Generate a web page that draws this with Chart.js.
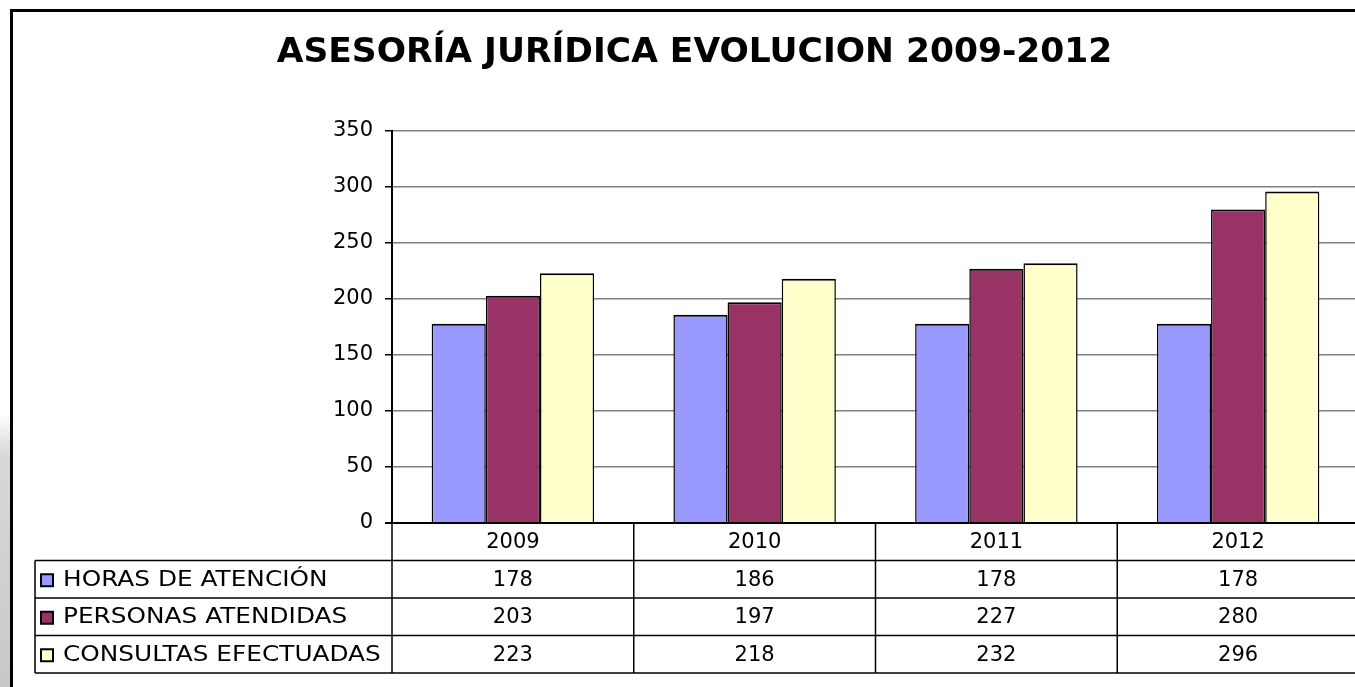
<!DOCTYPE html>
<html>
<head>
<meta charset="utf-8">
<script src="https://cdn.jsdelivr.net/npm/chart.js@4.4.1/dist/chart.umd.min.js"></script>
<style>
	html, body { margin: 0; padding: 0; background: #fff; overflow: hidden; }
	#wrap { position: relative; width: 1389px; height: 687px; }
</style>
</head>
<body>
<div id="wrap"><canvas id="chart" width="1389" height="687"></canvas></div>
<script>
const chartTitle = 'ASESORÍA JURÍDICA EVOLUCION 2009-2012';
const years = ['2009', '2010', '2011', '2012'];
const seriesNames = ['HORAS DE ATENCIÓN', 'PERSONAS ATENDIDAS', 'CONSULTAS EFECTUADAS'];
const horasAtencion = [178, 186, 178, 178];
const personasAtendidas = [203, 197, 227, 280];
const consultasEfectuadas = [223, 218, 232, 296];
const seriesColors = ['#9999ff', '#993366', '#ffffcc'];
const yMax = 350;
const yStep = 50;

const FONT = '"DejaVu Sans", Verdana, sans-serif';
const seriesValues = [horasAtencion, personasAtendidas, consultasEfectuadas];

// white page, outer frame, title and the data table under the plot
const sheetPlugin = {
	id: 'sheet',
	beforeDraw(chart) {
		const { ctx, width, height } = chart;
		ctx.save();
		ctx.fillStyle = '#fff';
		ctx.fillRect(0, 0, width, height);
		const grad = ctx.createLinearGradient(0, 415, 0, height);
		grad.addColorStop(0, 'rgba(210,210,210,0)');
		grad.addColorStop(0.15, '#d8d8d8');
		grad.addColorStop(1, '#c8c8c8');
		ctx.fillStyle = grad;
		ctx.fillRect(0, 415, 10, height - 415);
		ctx.restore();
	},
	afterDraw(chart) {
		const { ctx, chartArea } = chart;
		const { left, right, bottom } = chartArea;
		const colW = (right - left) / years.length;
		const rowH = 37.5;
		const tableLeft = 35;

		ctx.save();

		// outer frame
		ctx.strokeStyle = '#000';
		ctx.lineWidth = 3;
		ctx.strokeRect(11.5, 10.5, 2000, 2000);

		// title
		ctx.fillStyle = '#000';
		ctx.font = `bold 34.5px ${FONT}`;
		ctx.textAlign = 'center';
		ctx.textBaseline = 'middle';
		ctx.fillText(chartTitle, 694.5, 53);

		// table grid
		ctx.strokeStyle = '#000';
		ctx.lineWidth = 1.5;
		ctx.beginPath();
		for (let r = 1; r <= seriesNames.length + 1; r++) {
			const y = bottom + r * rowH;
			ctx.moveTo(tableLeft, y);
			ctx.lineTo(right + 5, y);
		}
		ctx.moveTo(tableLeft, bottom + rowH);
		ctx.lineTo(tableLeft, bottom + rowH * (seriesNames.length + 1));
		for (let c = 0; c <= years.length; c++) {
			const x = left + c * colW;
			ctx.moveTo(x, bottom);
			ctx.lineTo(x, bottom + rowH * (seriesNames.length + 1));
		}
		ctx.stroke();

		ctx.font = `21px ${FONT}`;
		ctx.textBaseline = 'middle';
		ctx.textAlign = 'center';
		ctx.fillStyle = '#000';
		years.forEach((year, c) => {
			ctx.fillText(year, left + (c + 0.5) * colW, bottom + rowH / 2 + 1);
		});

		seriesNames.forEach((name, r) => {
			const yMid = bottom + (r + 1.5) * rowH + 1;
			ctx.fillStyle = seriesColors[r];
			ctx.fillRect(41, yMid - 6, 12, 12);
			ctx.strokeStyle = '#000';
			ctx.lineWidth = 2;
			ctx.strokeRect(41, yMid - 6, 12, 12);
			ctx.fillStyle = '#000';

			// Verdana-like wide caps: stretch the label horizontally
			ctx.save();
			ctx.translate(63, yMid);
			ctx.scale(1.18, 1);
			ctx.textAlign = 'left';
			ctx.fillText(name, 0, 0);
			ctx.restore();

			ctx.textAlign = 'center';
			seriesValues[r].forEach((v, c) => {
				ctx.fillText(String(v), left + (c + 0.5) * colW, yMid);
			});
		});

		ctx.restore();
	},
};

new Chart(document.getElementById('chart'), {
	type: 'bar',
	data: {
		labels: years,
		datasets: seriesNames.map((name, i) => ({
			label: name,
			data: seriesValues[i],
			backgroundColor: seriesColors[i],
			borderColor: '#000',
			borderWidth: { top: 2, left: 1.5, right: 1.5, bottom: 0 },
			categoryPercentage: 0.672,
			barPercentage: 1,
		})),
	},
	options: {
		responsive: false,
		animation: false,
		devicePixelRatio: 1,
		layout: { padding: { left: 0, right: 30, top: 131, bottom: 164 } },
		plugins: {
			legend: { display: false },
			title: { display: false },
			tooltip: { enabled: false },
		},
		scales: {
			x: { display: false },
			y: {
				min: 0,
				max: yMax,
				afterFit: (scale) => { scale.width = 392; },
				ticks: {
					stepSize: yStep,
					color: '#000',
					padding: 12,
					font: { family: FONT, size: 21 },
				},
				grid: {
					color: (c) => (c.tick && c.tick.value === 0 ? '#000' : '#808080'),
					lineWidth: (c) => (c.tick && c.tick.value === 0 ? 2 : 1.5),
					tickLength: 7,
					tickColor: '#000',
				},
				border: { color: '#000', width: 2 },
			},
		},
	},
	plugins: [sheetPlugin],
});
</script>
</body>
</html>
